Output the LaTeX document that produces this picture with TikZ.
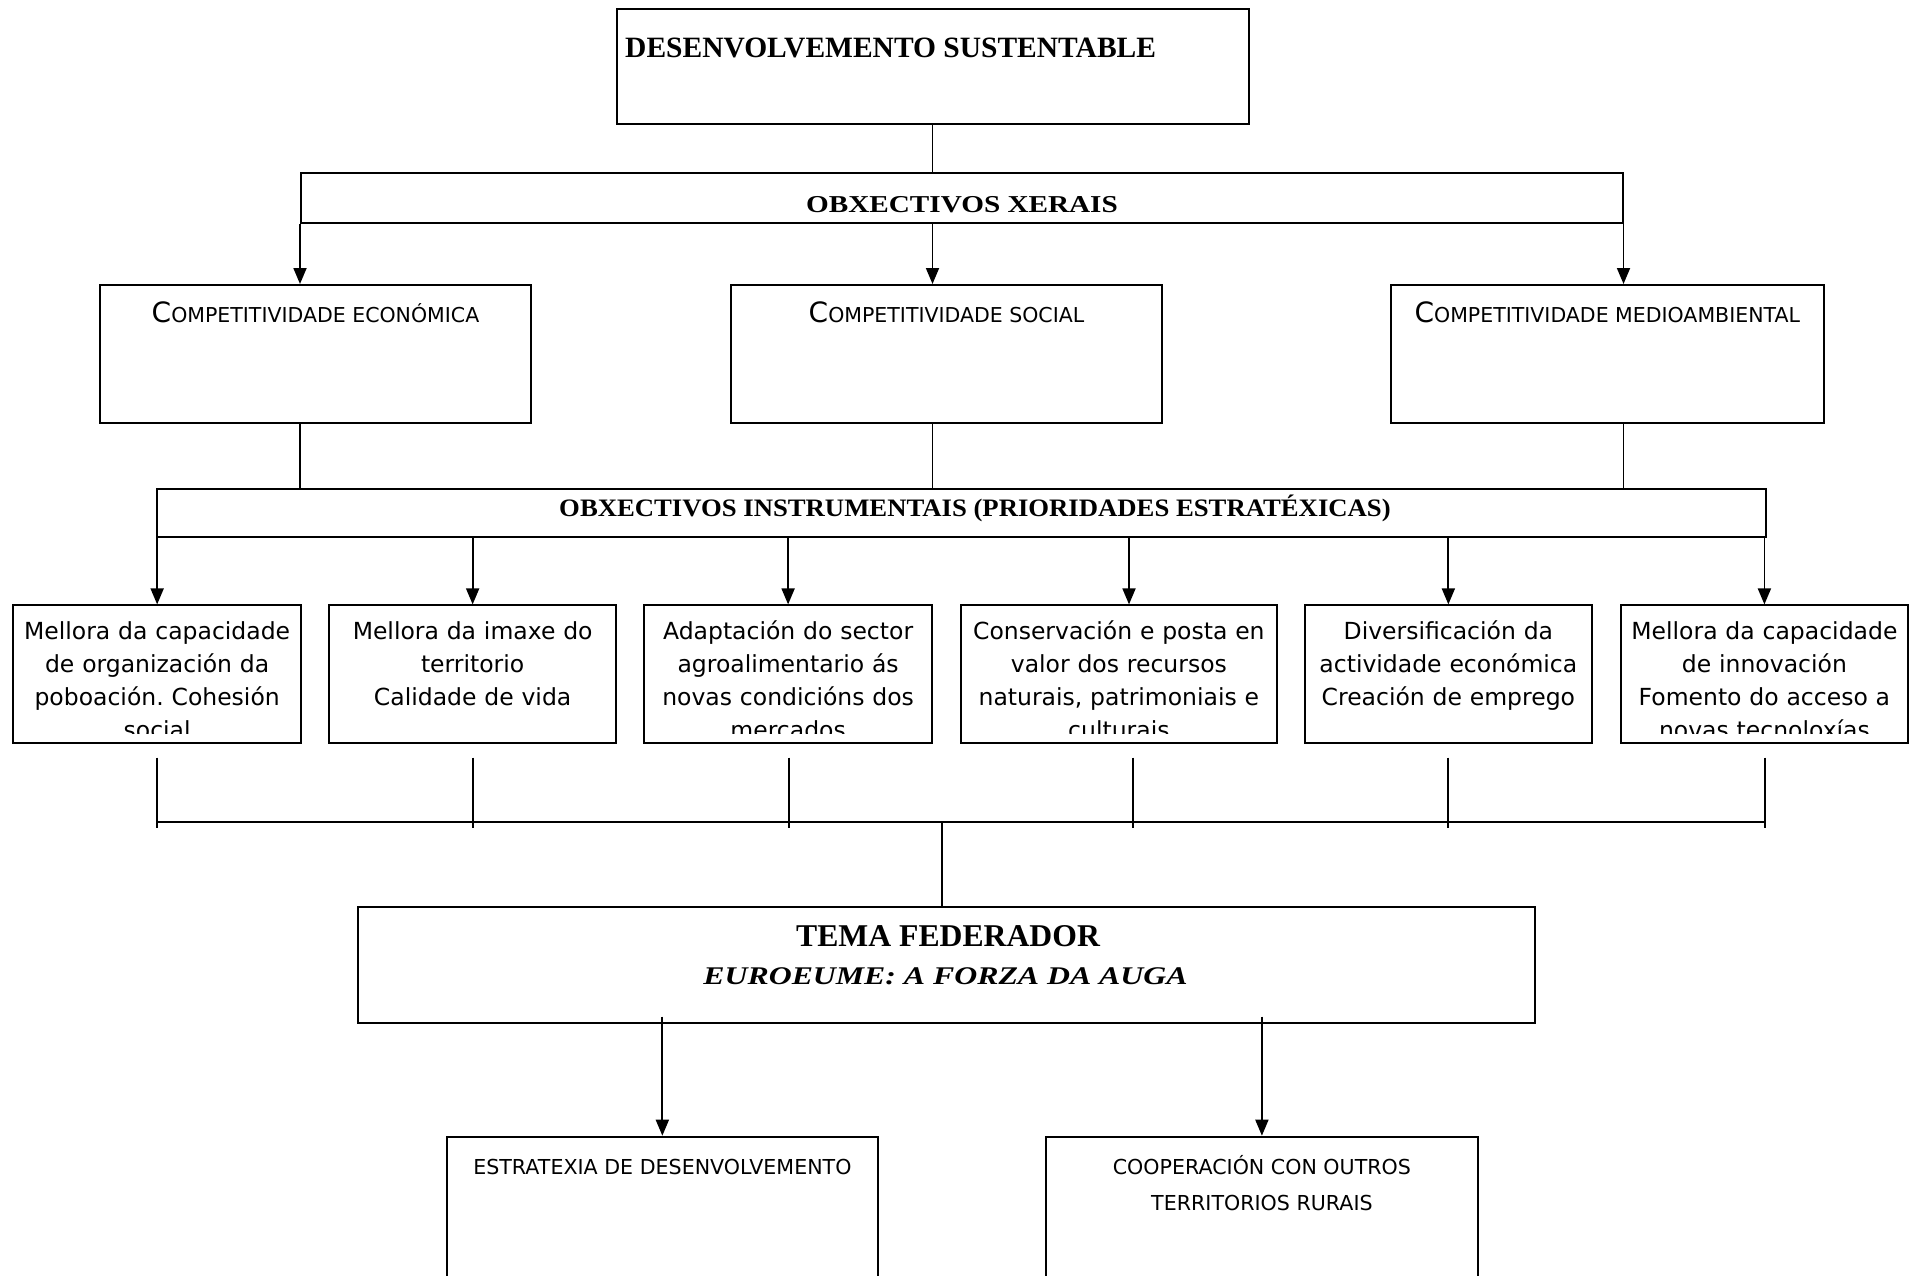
\documentclass[tikz,border=0pt]{standalone}
\usepackage{fontspec}
\setmainfont{Liberation Serif}
\newfontfamily\sansf{DejaVu Sans}
\usetikzlibrary{arrows.meta}
\frenchspacing
\newcommand{\mysc}[2]{{\fontsize{28}{30}\selectfont #1}{\fontsize{20.5}{24}\selectfont #2}}
\begin{document}
\begin{tikzpicture}[x=1pt,y=-1pt,
  box/.style={draw, line width=2pt, rectangle, inner sep=0pt},
  conn/.style={line width=1.8pt},
  arr/.style={conn, -{Triangle[length=16pt,width=13pt]}},
  plain/.style={inner sep=0pt, anchor=base},
  l3text/.style={anchor=north, inner sep=0pt, text width=330pt, align=center,
    font=\sansf\fontsize{23.5}{32.8}\selectfont},
  l2text/.style={plain, font=\sansf},
  bottext/.style={plain, font=\sansf\fontsize{20.6}{24}\selectfont}]
\useasboundingbox (0,0) rectangle (1910,1276);
\clip (0,0) rectangle (1910,1276);
\fill[white] (0,0) rectangle (1910,1276);

% boxes
\node[box, minimum width=632pt, minimum height=114.5pt] (top) at (932.5,66.75) {};
\node[box, minimum width=1321.5pt, minimum height=50pt] (xer) at (961.75,198) {};
\node[box, minimum width=431pt, minimum height=137.7pt] (c1) at (315.5,353.85) {};
\node[box, minimum width=431pt, minimum height=137.7pt] (c2) at (946.5,353.85) {};
\node[box, minimum width=432.5pt, minimum height=137.7pt] (c3) at (1607.25,353.85) {};
\node[box, minimum width=1609pt, minimum height=48.5pt] (ins) at (961.5,512.75) {};
\node[box, minimum width=287.5pt, minimum height=137.6pt] (b1) at (157.15,674.2) {};
\node[box, minimum width=287.5pt, minimum height=137.6pt] (b2) at (472.65,674.2) {};
\node[box, minimum width=287.4pt, minimum height=137.6pt] (b3) at (788.1,674.2) {};
\node[box, minimum width=315.5pt, minimum height=137.6pt] (b4) at (1118.85,674.2) {};
\node[box, minimum width=287.5pt, minimum height=137.6pt] (b5) at (1448.35,674.2) {};
\node[box, minimum width=286.2pt, minimum height=137.6pt] (b6) at (1764.4,674.2) {};
\node[box, minimum width=1177pt, minimum height=116.3pt] (tema) at (946.5,965.15) {};
\node[box, minimum width=431.1pt, minimum height=163.3pt] (e1) at (662.35,1218.35) {};
\node[box, minimum width=431.2pt, minimum height=163.3pt] (e2) at (1261.9,1218.35) {};

% helper coordinates
\coordinate (k4) at (1129,0);
\coordinate (u1) at (157.1,757.6);  \coordinate (v1) at (157.1,827.7);
\coordinate (u2) at (472.6,757.6);  \coordinate (v2) at (472.6,827.7);
\coordinate (u3) at (789.3,757.6);  \coordinate (v3) at (789.3,827.7);
\coordinate (u4) at (1132.8,757.6); \coordinate (v4) at (1132.8,827.7);
\coordinate (u5) at (1448.3,757.6); \coordinate (v5) at (1448.3,827.7);
\coordinate (u6) at (1765,757.6);   \coordinate (v6) at (1765,827.7);
\coordinate (h1) at (157.1,821.7);
\coordinate (h6) at (1765,821.7);
\coordinate (hm) at (941.6,821.7);
\coordinate (s1) at (662.35,1016.7);
\coordinate (s2) at (1261.9,1016.7);

% connectors
\draw[conn] (top.south) -- (top.south |- xer.north);
\draw[arr] (xer.south west) -- (xer.south west |- c1.north);
\draw[arr] (top.south |- xer.south) -- (top.south |- c2.north);
\draw[arr] (xer.south east) -- (xer.south east |- c3.north);
\draw[conn] (c1.south -| xer.south west) -- (ins.north -| xer.south west);
\draw[conn] (c2.south -| top.south) -- (ins.north -| top.south);
\draw[conn] (c3.south -| xer.south east) -- (ins.north -| xer.south east);
\draw[arr] (ins.south -| b1.north) -- (b1.north);
\draw[arr] (ins.south -| b2.north) -- (b2.north);
\draw[arr] (ins.south -| b3.north) -- (b3.north);
\draw[arr] (ins.south -| k4) -- (b4.north -| k4);
\draw[arr] (ins.south -| b5.north) -- (b5.north);
\draw[arr] (ins.south -| b6.north) -- (b6.north);
\draw[conn] (u1) -- (v1);
\draw[conn] (u2) -- (v2);
\draw[conn] (u3) -- (v3);
\draw[conn] (u4) -- (v4);
\draw[conn] (u5) -- (v5);
\draw[conn] (u6) -- (v6);
\draw[conn] (h1) -- (h6);
\draw[conn] (hm) -- (tema.north -| hm);
\draw[arr] (s1) -- (e1.north);
\draw[arr] (s2) -- (e2.north);

% texts
\node[plain, anchor=base west, font=\bfseries\fontsize{29.5}{34}\selectfont] (tTop) at (625,57.3) {DESENVOLVEMENTO SUSTENTABLE};
\node[plain, font=\bfseries\fontsize{29.2}{34}\selectfont] (tXer) at (962,212) {\scalebox{1}[0.83]{OBXECTIVOS XERAIS}};
\node[plain, font=\bfseries\fontsize{26.7}{30}\selectfont] (tIns) at (975,516.7) {\scalebox{1}[0.94]{OBXECTIVOS INSTRUMENTAIS (PRIORIDADES ESTRATÉXICAS)}};
\node[plain, font=\bfseries\fontsize{31.7}{36}\selectfont] (tTema) at (948,946) {TEMA FEDERADOR};
\node[plain, font=\bfseries\itshape\fontsize{31.8}{36}\selectfont] (tEuro) at (945.5,984) {\scalebox{1}[0.8]{EUROEUME: A FORZA DA AUGA}};

\node[l2text] (tc1) at (315.5,322.7) {\mysc{C}{OMPETITIVIDADE ECONÓMICA}};
\node[l2text] (tc2) at (946.5,322.7) {\mysc{C}{OMPETITIVIDADE SOCIAL}};
\node[l2text] (tc3) at (1607.25,322.7) {\mysc{C}{OMPETITIVIDADE MEDIOAMBIENTAL}};

\begin{scope}
\clip (0,600) rectangle (1910,733);
\node[l3text] (t1) at (b1.north) {\rule{0pt}{35.3pt}Mellora da capacidade\\de organización da\\poboación. Cohesión\\social};
\node[l3text] (t2) at (b2.north) {\rule{0pt}{35.3pt}Mellora da imaxe do\\territorio\\Calidade de vida};
\node[l3text] (t3) at (b3.north) {\rule{0pt}{35.3pt}Adaptación do sector\\agroalimentario ás\\novas condicións dos\\mercados};
\node[l3text] (t4) at (b4.north) {\rule{0pt}{35.3pt}Conservación e posta en\\valor dos recursos\\naturais, patrimoniais e\\culturais};
\node[l3text] (t5) at (b5.north) {\rule{0pt}{35.3pt}Diversificación da\\actividade económica\\Creación de emprego};
\node[l3text] (t6) at (b6.north) {\rule{0pt}{35.3pt}Mellora da capacidade\\de innovación\\Fomento do acceso a\\novas tecnoloxías};
\end{scope}

\node[bottext] (te1) at (662.35,1174) {ESTRATEXIA DE DESENVOLVEMENTO};
\node[bottext] (te2a) at (1261.9,1174) {COOPERACIÓN CON OUTROS};
\node[bottext] (te2b) at (1261.9,1210.7) {TERRITORIOS RURAIS};
\end{tikzpicture}
\end{document}
